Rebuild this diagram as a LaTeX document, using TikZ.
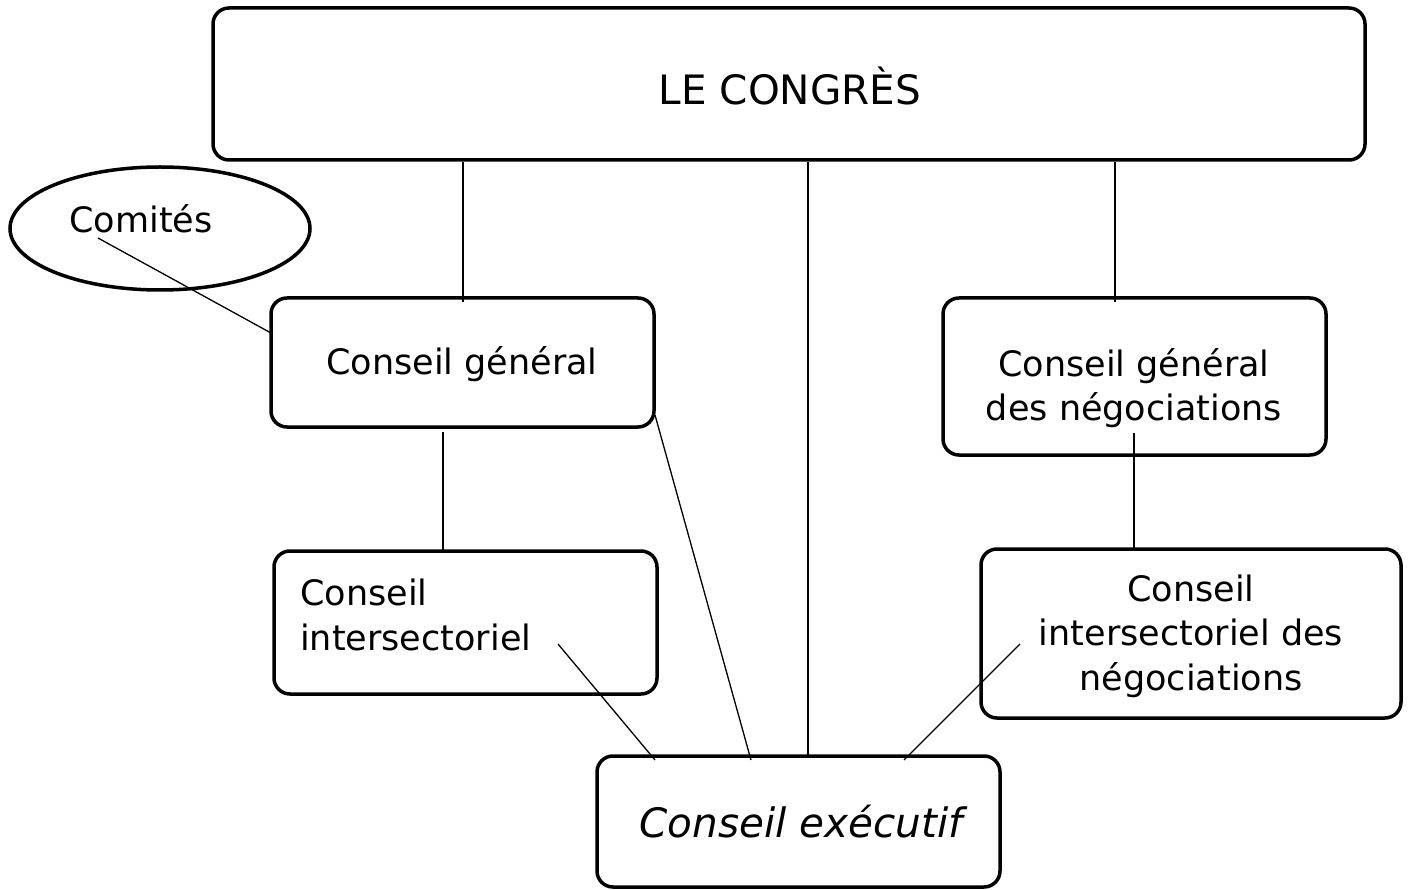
\documentclass[tikz,border=0pt]{standalone}
\usepackage{fontspec}
\setmainfont{DejaVu Sans}
\usetikzlibrary{shapes.geometric}
\begin{document}
\begin{tikzpicture}[x=1pt,y=-1pt,
  box/.style={draw,line width=3.5pt,rounded corners=16pt,inner sep=0pt},
  oval/.style={draw,ellipse,line width=3.5pt,inner sep=0pt},
  conn/.style={line width=1.3pt},
  txt/.style={font=\fontsize{35}{44.5}\selectfont,inner sep=0pt},
  ttl/.style={font=\fontsize{40.5}{44}\selectfont,inner sep=0pt},
  ital/.style={font=\fontsize{40.5}{44}\selectfont\itshape,inner sep=0pt}]
\useasboundingbox (0,0) rectangle (1408,890);
% boxes
\node[box,minimum width=1152pt,minimum height=152pt] (congres) at (789,84) {};
\node[oval,minimum width=300pt,minimum height=123pt] (comites) at (160,228.5) {};
\node[box,minimum width=383pt,minimum height=129pt] (cg) at (462.5,362.5) {};
\node[box,minimum width=383pt,minimum height=157pt] (cgn) at (1134.5,376.5) {};
\node[box,minimum width=383pt,minimum height=143pt] (ci) at (465.5,622.5) {};
\node[box,minimum width=420pt,minimum height=169pt] (cin) at (1191,633.5) {};
\node[box,minimum width=403pt,minimum height=131pt] (ce) at (798.5,821.5) {};
% texts
\node[ttl] (tcong) at (790,86) {LE CONGRÈS};
\node[txt] (tcom) at (141,219) {Comités};
\node[txt] (tcg) at (462,364) {Conseil général};
\node[txt,align=center] (tcgn) at (1134,388) {Conseil général\\des négociations};
\node[txt,align=left,anchor=west] (tci) at (300,615) {Conseil\\intersectoriel};
\node[txt,align=center] (tcin) at (1191,636) {Conseil\\intersectoriel des\\négociations};
\node[ital] (tce) at (801,822) {Conseil exécutif};
% free ends
\coordinate (e1) at (463,302);
\coordinate (e2) at (808,756);
\coordinate (e3) at (1115,302);
\coordinate (e4) at (98,238);
\coordinate (e5) at (271,333);
\coordinate (e6) at (443,432);
\coordinate (e7) at (443,551);
\coordinate (e8) at (655,415);
\coordinate (e9) at (751,760);
\coordinate (e10) at (558,644);
\coordinate (e11) at (655,760);
\coordinate (e12) at (1134,433);
\coordinate (e13) at (1134,549);
\coordinate (e14) at (1020,644);
\coordinate (e15) at (904,760);
% connectors
\draw[conn] (e1 |- congres.south) -- (e1);
\draw[conn] (e2 |- congres.south) -- (e2);
\draw[conn] (e3 |- congres.south) -- (e3);
\draw[conn] (e4) -- (e5);
\draw[conn] (e6) -- (e7);
\draw[conn] (e8) -- (e9);
\draw[conn] (e10) -- (e11);
\draw[conn] (e12) -- (e13);
\draw[conn] (e14) -- (e15);
\end{tikzpicture}
\end{document}
